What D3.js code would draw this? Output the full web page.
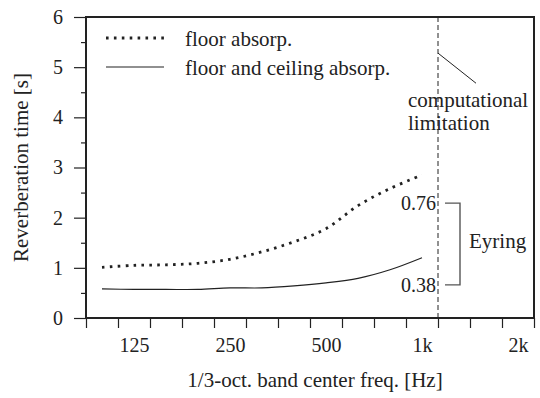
<!DOCTYPE html>
<html>
<head>
<meta charset="utf-8">
<script src="https://cdn.jsdelivr.net/npm/d3@7"></script>
<style>
  body { margin: 0; background: #fff; }
  text { font-family: "Liberation Serif", Tinos, "Times New Roman", "DejaVu Serif", serif; fill: #222; }
</style>
</head>
<body>
<div id="chart"></div>
<script>
// 1/3-octave band centres and measured reverberation times
const bandFreqs = [100, 125, 160, 200, 250, 315, 400, 500, 630, 800, 1000];
const floorAbs = [1.01, 1.05, 1.06, 1.09, 1.17, 1.32, 1.52, 1.78, 2.24, 2.58, 2.85];
const floorCeilAbs = [0.58, 0.57, 0.57, 0.57, 0.60, 0.60, 0.64, 0.70, 0.79, 0.96, 1.20];

const octaveTicks = [125, 250, 500, 1000, 2000];
const octaveLabels = ["125", "250", "500", "1k", "2k"];
const yTicks = [0, 1, 2, 3, 4, 5, 6];
const yMinorTicks = [0.5, 1.5, 2.5, 3.5, 4.5, 5.5];
const legendLabels = ["floor absorp.", "floor and ceiling absorp."];

const limitFreq = 1000 * Math.pow(2, 1 / 6);   // upper edge of the 1k band
const eyringRange = [0.66, 2.29];               // bracket ends (s)
const eyringLabels = ["0.38", "0.76"];

const serif = '"Liberation Serif", Tinos, "Times New Roman", "DejaVu Serif", serif';

const margin = { top: 17, right: 6, bottom: 80, left: 86 };
const width = 540 - margin.left - margin.right;
const height = 398 - margin.top - margin.bottom;

const svg = d3.select("#chart")
    .append("svg")
    .attr("width", 540)
    .attr("height", 398)
    .append("g")
    .attr("transform", `translate(${margin.left},${margin.top})`);

// exact 1/3-octave position for a nominal band frequency
const exact = f => 1000 * Math.pow(2, Math.round(3 * Math.log2(f / 1000)) / 3);
const bandEdges = d3.range(-11, 4).map(k => 1000 * Math.pow(2, (k + 0.5) / 3));

const x = d3.scaleLog().base(2)
    .domain([bandEdges[0], bandEdges[bandEdges.length - 1]])
    .range([0, width]);

const y = d3.scaleLinear()
    .domain([0, 6])
    .range([height, 0]);

// Y axis: major and minor ticks
svg.append("g")
    .call(d3.axisLeft(y).tickValues(yTicks).tickSize(12).tickPadding(11).tickFormat(d3.format("d")));
svg.append("g")
    .call(d3.axisLeft(y).tickValues(yMinorTicks).tickSize(5).tickFormat(""));

// X axis: band edge ticks, octave labels
svg.append("g")
    .attr("transform", `translate(0,${height})`)
    .call(d3.axisBottom(x).tickValues(bandEdges).tickSize(10).tickFormat(""));
svg.append("g")
    .attr("transform", `translate(0,${height})`)
    .call(d3.axisBottom(x).tickValues(octaveTicks).tickSize(0).tickPadding(20)
        .tickFormat((d, i) => octaveLabels[i]));

svg.selectAll(".domain").remove();
svg.selectAll("g").attr("font-family", serif);
svg.selectAll(".tick line").attr("stroke", "#222").attr("stroke-width", 1.2);
svg.selectAll(".tick text").style("font-size", "20px").attr("fill", "#222");

// Frame
svg.append("rect")
    .attr("x", 0).attr("y", 0)
    .attr("width", width).attr("height", height)
    .attr("fill", "none")
    .attr("stroke", "#222")
    .attr("stroke-width", 2);

// Computational limitation line
svg.append("line")
    .attr("x1", x(limitFreq)).attr("x2", x(limitFreq))
    .attr("y1", 0).attr("y2", height)
    .attr("stroke", "#222")
    .attr("stroke-width", 1)
    .attr("stroke-dasharray", "5,3");

svg.append("line")
    .attr("x1", x(limitFreq)).attr("y1", y(5.28))
    .attr("x2", x(limitFreq) + 38).attr("y2", y(4.68))
    .attr("stroke", "#222")
    .attr("stroke-width", 1);

svg.append("text")
    .attr("x", x(limitFreq) - 30)
    .attr("y", 90)
    .style("font-size", "21px")
    .text("computational");
svg.append("text")
    .attr("x", x(limitFreq) - 30)
    .attr("y", 113)
    .style("font-size", "21px")
    .text("limitation");

// Curves
const line = d3.line()
    .x(d => x(exact(d[0])))
    .y(d => y(d[1]))
    .curve(d3.curveCatmullRom.alpha(0.5));

svg.append("path")
    .datum(bandFreqs.map((f, i) => [f, floorAbs[i]]))
    .attr("fill", "none")
    .attr("stroke", "#222")
    .attr("stroke-width", 2.8)
    .attr("stroke-dasharray", "2.6,5.3")
    .attr("d", line);

svg.append("path")
    .datum(bandFreqs.map((f, i) => [f, floorCeilAbs[i]]))
    .attr("fill", "none")
    .attr("stroke", "#222")
    .attr("stroke-width", 1.1)
    .attr("d", line);

// Legend
const legend = svg.append("g").attr("transform", "translate(20,21)");
legendLabels.forEach((label, i) => {
    legend.append("line")
        .attr("x1", 0).attr("x2", 58)
        .attr("y1", i * 29).attr("y2", i * 29)
        .attr("stroke", "#222")
        .attr("stroke-width", i === 0 ? 2.8 : 1.1)
        .attr("stroke-dasharray", i === 0 ? "2.6,5.3" : null);
    legend.append("text")
        .attr("x", 79)
        .attr("y", i * 29 + 8)
        .style("font-size", "21px")
        .text(label);
});

// Eyring bracket
const bx = x(limitFreq) + 7;
svg.append("path")
    .attr("d", `M${bx},${y(eyringRange[1])}H${bx + 15}V${y(eyringRange[0])}H${bx}`)
    .attr("fill", "none")
    .attr("stroke", "#555")
    .attr("stroke-width", 1.4);

eyringLabels.forEach((label, i) => {
    svg.append("text")
        .attr("x", x(limitFreq) - 2)
        .attr("y", y(eyringRange[i === 0 ? 0 : 1]))
        .attr("dy", "0.35em")
        .attr("text-anchor", "end")
        .style("font-size", "20px")
        .text(label);
});

svg.append("text")
    .attr("x", bx + 24)
    .attr("y", (y(eyringRange[0]) + y(eyringRange[1])) / 2)
    .attr("dy", "0.2em")
    .style("font-size", "21px")
    .text("Eyring");

// Axis titles
svg.append("text")
    .attr("x", 229)
    .attr("y", height + 69)
    .attr("text-anchor", "middle")
    .style("font-size", "21px")
    .text("1/3-oct. band center freq. [Hz]");

svg.append("text")
    .attr("transform", `translate(-58,${height / 2}) rotate(-90)`)
    .attr("text-anchor", "middle")
    .style("font-size", "21px")
    .text("Reverberation time [s]");
</script>
</body>
</html>
